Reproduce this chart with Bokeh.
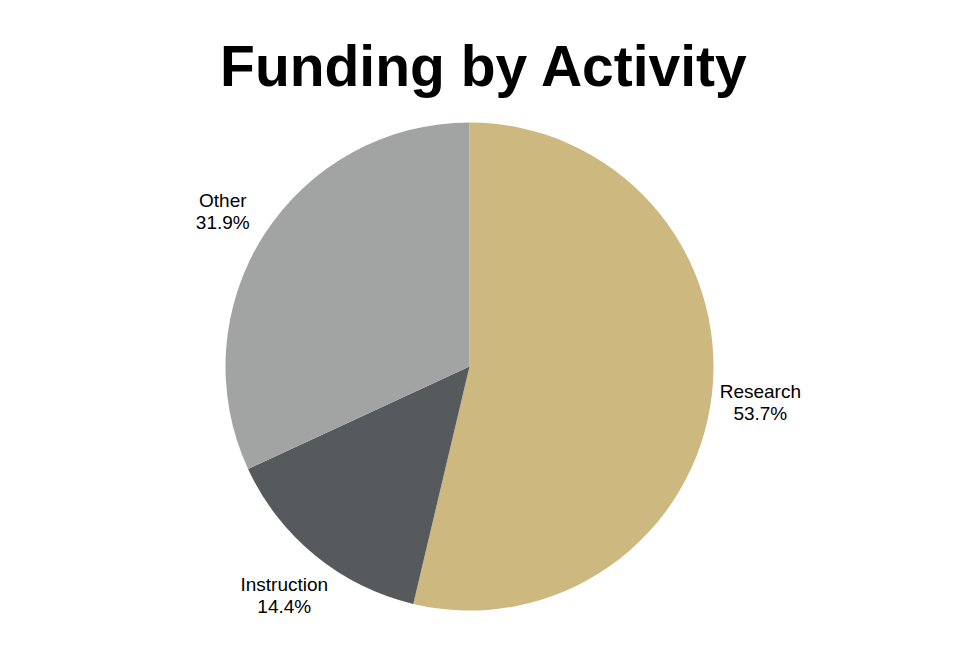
import math
from bokeh.plotting import figure
from bokeh.models import Range1d, ColumnDataSource
from bokeh.core.properties import value
from bokeh.embed import file_html
from bokeh.resources import INLINE

title_text = "Funding by Activity"
categories = ["Research", "Instruction", "Other"]
percents = [53.7, 14.4, 31.9]
colors = ["#CDB97F", "#565A5C", "#A2A4A3"]

W, H = 938, 652
p = figure(width=W, height=H, output_backend="svg", toolbar_location=None,
           x_range=Range1d(0, W), y_range=Range1d(0, H), min_border=0)
p.axis.visible = False
p.grid.visible = False
p.outline_line_color = None
p.background_fill_color = "white"

cx, cy, R = 469, 286, 244
total = sum(percents)
starts, ends, lx, ly, names, pct = [], [], [], [], [], []
cum = 0.0
for c, v in zip(categories, percents):
    a0 = math.pi / 2 - 2 * math.pi * cum / total
    a1 = math.pi / 2 - 2 * math.pi * (cum + v) / total
    starts.append(a0)
    ends.append(a1)
    mid = (a0 + a1) / 2
    lr = R * 1.2
    lx.append(cx + lr * math.cos(mid))
    ly.append(cy + lr * math.sin(mid))
    names.append(c)
    pct.append(f"{v:.1f}%")
    cum += v

src = ColumnDataSource(dict(start=starts, end=ends, color=colors,
                            lx=lx, ly=ly, name=names, pct=pct))
p.wedge(x=cx, y=cy, radius=R, start_angle="start", end_angle="end",
        direction="clock", fill_color="color", line_color=None, source=src)

p.text(x="lx", y="ly", text="name", source=src, y_offset=2,
       text_font=value("Liberation Sans"), text_font_size="19px",
       text_align="center", text_baseline="bottom", text_color="black")
p.text(x="lx", y="ly", text="pct", source=src, y_offset=3,
       text_font=value("Liberation Sans"), text_font_size="19px",
       text_align="center", text_baseline="top", text_color="black")

p.text(x=[484], y=[587], text=[title_text],
       text_font=value("Liberation Sans"), text_font_size="57px",
       text_font_style="bold", text_align="center", text_baseline="middle",
       text_color="black")

open("out.html", "w").write(file_html(p, INLINE))
